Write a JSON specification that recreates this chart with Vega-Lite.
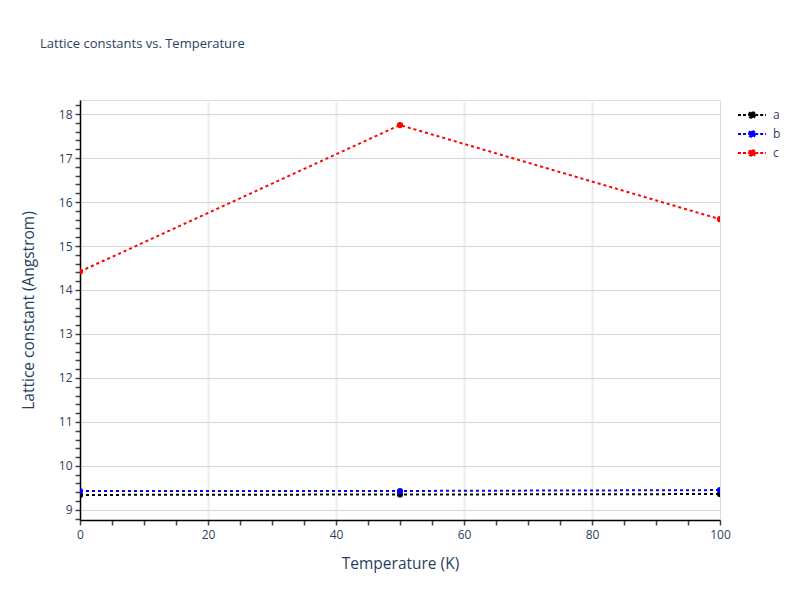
{
  "$schema": "https://vega.github.io/schema/vega-lite/v6.json",
  "width": 640,
  "height": 420,
  "autosize": {"type": "none"},
  "padding": {"left": 80, "top": 100, "right": 80, "bottom": 80},
  "background": "white",
  "title": {
    "text": "Lattice constants vs. Temperature",
    "anchor": "start",
    "frame": "group",
    "dx": -40,
    "offset": 49,
    "fontSize": 13,
    "fontWeight": "normal",
    "font": "Open Sans",
    "color": "#2a3f5f"
  },
  "data": {
    "values": [
      {"temperature": 0, "lattice": "a", "value": 9.34},
      {"temperature": 50, "lattice": "a", "value": 9.35},
      {"temperature": 100, "lattice": "a", "value": 9.36},
      {"temperature": 0, "lattice": "b", "value": 9.43},
      {"temperature": 50, "lattice": "b", "value": 9.43},
      {"temperature": 100, "lattice": "b", "value": 9.45},
      {"temperature": 0, "lattice": "c", "value": 14.42},
      {"temperature": 50, "lattice": "c", "value": 17.75},
      {"temperature": 100, "lattice": "c", "value": 15.61}
    ]
  },
  "encoding": {
    "x": {
      "field": "temperature",
      "type": "quantitative",
      "title": "Temperature (K)",
      "scale": {"domain": [0, 100], "nice": false, "zero": false},
      "axis": {
        "values": [0, 5, 10, 15, 20, 25, 30, 35, 40, 45, 50, 55, 60, 65, 70, 75, 80, 85, 90, 95, 100],
        "labelExpr": "datum.value % 20 === 0 ? datum.value : ''",
        "grid": true,
        "gridColor": "#ebebeb",
        "gridWidth": 2,
        "gridOpacity": {"condition": {"test": "datum.value % 20 === 0 && datum.value > 0 && datum.value < 100", "value": 1}, "value": 0},
        "domainColor": "#000000",
        "domainWidth": 1.5,
        "tickColor": "#444444",
        "tickSize": 5,
        "tickWidth": 1.5,
        "labelFontSize": 12,
        "labelPadding": 4,
        "labelColor": "#2a3f5f",
        "labelFont": "Open Sans",
        "labelFlush": false,
        "titleFontSize": 15.5,
        "titleFontWeight": "normal",
        "titleColor": "#2a3f5f",
        "titleFont": "Open Sans",
        "titlePadding": 16
      }
    },
    "y": {
      "field": "value",
      "type": "quantitative",
      "title": "Lattice constant (Angstrom)",
      "scale": {"domain": [8.77, 18.32], "nice": false, "zero": false},
      "axis": {
        "values": [8.8, 9, 9.2, 9.4, 9.6, 9.8, 10, 10.2, 10.4, 10.6, 10.8, 11, 11.2, 11.4, 11.6, 11.8, 12, 12.2, 12.4, 12.6, 12.8, 13, 13.2, 13.4, 13.6, 13.8, 14, 14.2, 14.4, 14.6, 14.8, 15, 15.2, 15.4, 15.6, 15.8, 16, 16.2, 16.4, 16.6, 16.8, 17, 17.2, 17.4, 17.6, 17.8, 18, 18.2],
        "labelExpr": "abs(datum.value - round(datum.value)) < 0.01 ? round(datum.value) : ''",
        "grid": true,
        "gridColor": "#d6d6d6",
        "gridWidth": 1,
        "gridOpacity": {"condition": {"test": "abs(datum.value - round(datum.value)) < 0.01", "value": 1}, "value": 0},
        "domainColor": "#000000",
        "domainWidth": 1.5,
        "tickColor": "#444444",
        "tickSize": 5,
        "tickWidth": 1.5,
        "labelFontSize": 12,
        "labelPadding": 3,
        "labelColor": "#2a3f5f",
        "labelFont": "Open Sans",
        "labelFlush": false,
        "titleFontSize": 15.5,
        "titleFontWeight": "normal",
        "titleColor": "#2a3f5f",
        "titleFont": "Open Sans",
        "titlePadding": 22
      }
    },
    "color": {
      "field": "lattice",
      "type": "nominal",
      "scale": {"domain": ["a", "b", "c"], "range": ["#000000", "#0000ff", "#ff0000"]},
      "legend": {
        "title": null,
        "orient": "none",
        "legendX": 664,
        "legendY": 7,
        "symbolType": "M-2,0L-0.45,0M0.45,0L2,0M0.45,0L0.32,0.32L0,0.45L-0.32,0.32L-0.45,0L-0.32,-0.32L0,-0.45L0.32,-0.32Z",
        "symbolSize": 196,
        "symbolStrokeWidth": 2,
        "symbolDash": [3, 2],
        "symbolOffset": 0,
        "labelFontSize": 12,
        "labelColor": "#2a3f5f",
        "labelFont": "Open Sans",
        "labelOffset": 13,
        "rowPadding": 3,
        "encode": {
          "symbols": {
            "update": {
              "fill": {"scale": "color", "field": "value"},
              "stroke": {"scale": "color", "field": "value"},
              "fillOpacity": {"value": 1},
              "opacity": {"value": 1}
            }
          }
        }
      }
    }
  },
  "layer": [
    {
      "mark": {"type": "line", "strokeWidth": 2, "strokeDash": [3, 3], "clip": true}
    },
    {
      "mark": {"type": "point", "shape": "circle", "filled": true, "opacity": 1, "size": 38, "clip": true}
    }
  ]
}
